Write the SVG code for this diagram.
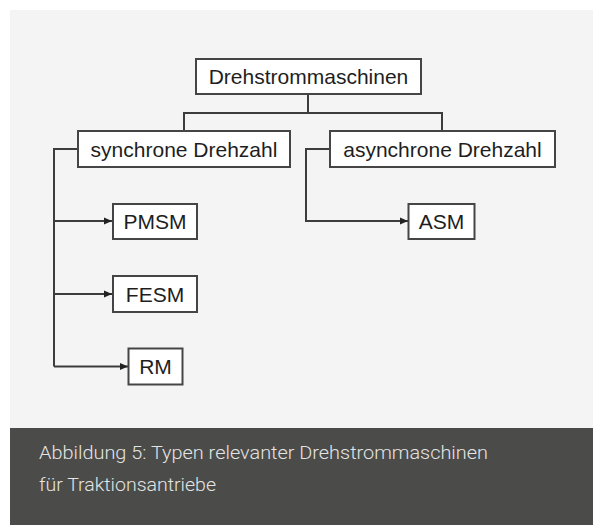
<svg xmlns="http://www.w3.org/2000/svg" width="593" height="525" viewBox="0 0 593 525">
<style>
.box{fill:#ffffff;stroke:#454545;stroke-width:2}
.lbl{font-family:"Liberation Sans",Arial,sans-serif;font-size:21px;fill:#1e1e1e;text-anchor:middle}
.con{fill:none;stroke:#3c3c3c;stroke-width:2}
.cap{font-family:Roboto,"Liberation Sans",sans-serif;font-weight:300;font-size:19px;fill:#e4e4e4}
</style>
<defs>
<marker id="arr" viewBox="0 0 8 8" refX="8" refY="4" markerWidth="8" markerHeight="8" markerUnits="userSpaceOnUse" orient="auto">
<path d="M0,0.5 L8,4 L0,7.5 Z" fill="#222"/>
</marker>
</defs>
<rect x="0" y="0" width="593" height="525" fill="#ffffff"/>
<rect x="10" y="10" width="583" height="418" fill="#f4f4f4"/>
<rect x="10" y="428" width="583" height="97" fill="#4b4b49"/>
<g id="connectors">
<path class="con" d="M308,94 V113"/>
<path class="con" d="M184,131 V113 H442 V131"/>
<path class="con" d="M78,149 H54 V366.5"/>
<path class="con" d="M54,221 H112" marker-end="url(#arr)"/>
<path class="con" d="M54,294 H112" marker-end="url(#arr)"/>
<path class="con" d="M54,366.5 H128" marker-end="url(#arr)"/>
<path class="con" d="M330,149 H306 V221 H408" marker-end="url(#arr)"/>
</g>
<g id="drehstrommaschinen">
<rect class="box" x="196" y="59" width="225" height="35"/>
<text class="lbl" x="308.5" y="84">Drehstrommaschinen</text>
</g>
<g id="synchron">
<rect class="box" x="78" y="131" width="212" height="36"/>
<text class="lbl" x="184" y="156.5">synchrone Drehzahl</text>
</g>
<g id="asynchron">
<rect class="box" x="330" y="131" width="225" height="36"/>
<text class="lbl" x="442.5" y="156.5">asynchrone Drehzahl</text>
</g>
<g id="pmsm">
<rect class="box" x="113" y="204" width="84" height="35"/>
<text class="lbl" x="155" y="229">PMSM</text>
</g>
<g id="fesm">
<rect class="box" x="113" y="276" width="84" height="36"/>
<text class="lbl" x="155" y="301.5">FESM</text>
</g>
<g id="rm">
<rect class="box" x="128.5" y="348.5" width="54" height="36"/>
<text class="lbl" x="155.5" y="374">RM</text>
</g>
<g id="asm">
<rect class="box" x="408.5" y="204" width="66" height="35"/>
<text class="lbl" x="441.5" y="229">ASM</text>
</g>
<g id="caption">
<text class="cap" x="39" y="459" textLength="449" lengthAdjust="spacingAndGlyphs">Abbildung 5: Typen relevanter Drehstrommaschinen</text>
<text class="cap" x="39" y="491" textLength="177" lengthAdjust="spacingAndGlyphs">für Traktionsantriebe</text>
</g>
</svg>
